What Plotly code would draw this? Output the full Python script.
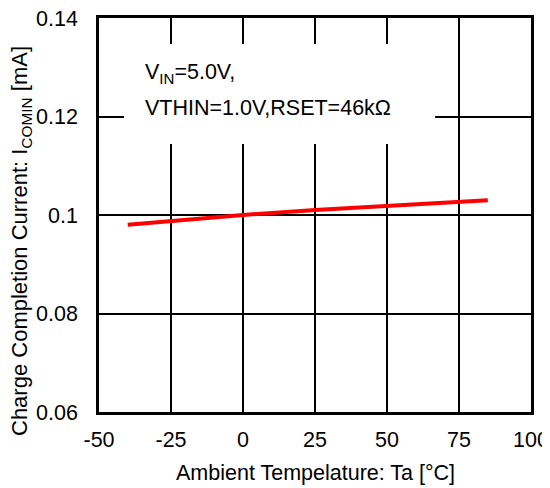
import plotly.graph_objects as go

temp_c = [-40, -25, 0, 25, 50, 75, 85]
icomin_ma = [0.098, 0.0988, 0.1, 0.101, 0.1018, 0.1027, 0.103]

x_ticks = [-50, -25, 0, 25, 50, 75, 100]
x_tick_labels = ["-50", "-25", "0", "25", "50", "75", "100"]
y_ticks = [0.06, 0.08, 0.1, 0.12, 0.14]
y_tick_labels = ["0.06", "0.08", "0.1", "0.12", "0.14"]

font_family = "Liberation Sans, Arial, sans-serif"
FS = 21.5

fig = go.Figure()
fig.add_trace(go.Scatter(
    x=temp_c, y=icomin_ma, mode="lines",
    line=dict(color="#ff0000", width=4),
    showlegend=False,
))

fig.add_shape(type="rect", xref="x", yref="y",
              x0=-41.3, x1=66.7, y0=0.1144, y1=0.1347,
              fillcolor="white", line=dict(width=0), layer="between")

fig.add_annotation(
    xref="x", yref="y", x=-34.7, y=0.1288, xanchor="left", yanchor="middle",
    showarrow=False, text="V<sub>IN</sub>=5.0V,",
    font=dict(family=font_family, size=FS, color="black"),
)
fig.add_annotation(
    xref="x", yref="y", x=-34.7, y=0.1217, xanchor="left", yanchor="middle",
    showarrow=False, text="VTHIN=1.0V,RSET=46kΩ",
    font=dict(family=font_family, size=FS, color="black"),
)

# axis titles (positions relative to plot area: left 99px, bottom 412px, 432x394)
fig.add_annotation(
    xref="paper", yref="paper", x=(315 - 99) / 432, y=-(473 - 412) / 394,
    xanchor="center", yanchor="middle", showarrow=False,
    text="Ambient Tempelature: Ta [°C]",
    font=dict(family=font_family, size=FS, color="black"),
)
fig.add_annotation(
    xref="paper", yref="paper", x=(21 - 99) / 432, y=(412 - 241) / 394,
    xanchor="center", yanchor="middle", showarrow=False, textangle=-90,
    text="Charge Completion Current: I<sub>COMIN</sub> [mA]",
    font=dict(family=font_family, size=22, color="black"),
)

axis_common = dict(
    showline=True, linecolor="black", linewidth=2.5, mirror=True,
    showgrid=True, gridcolor="black", gridwidth=1.5,
    zeroline=False, ticks="", automargin=False,
    ticklabeloverflow="allow",
    tickfont=dict(family=font_family, size=FS, color="black"),
)

fig.update_xaxes(range=[-50, 100], tickvals=x_ticks, ticktext=x_tick_labels,
                 ticklabelstandoff=6, **axis_common)
fig.update_yaxes(range=[0.06, 0.14], tickvals=y_ticks, ticktext=y_tick_labels,
                 ticklabelstandoff=14, **axis_common)

# page body adds an 8px offset; margins compensate so the plot area lands
# at 99..531 x 18..412 in the window
fig.update_layout(
    width=550, height=488,
    margin=dict(l=91, r=27, t=10, b=84),
    plot_bgcolor="white", paper_bgcolor="white",
)

fig.write_html("out.html")
